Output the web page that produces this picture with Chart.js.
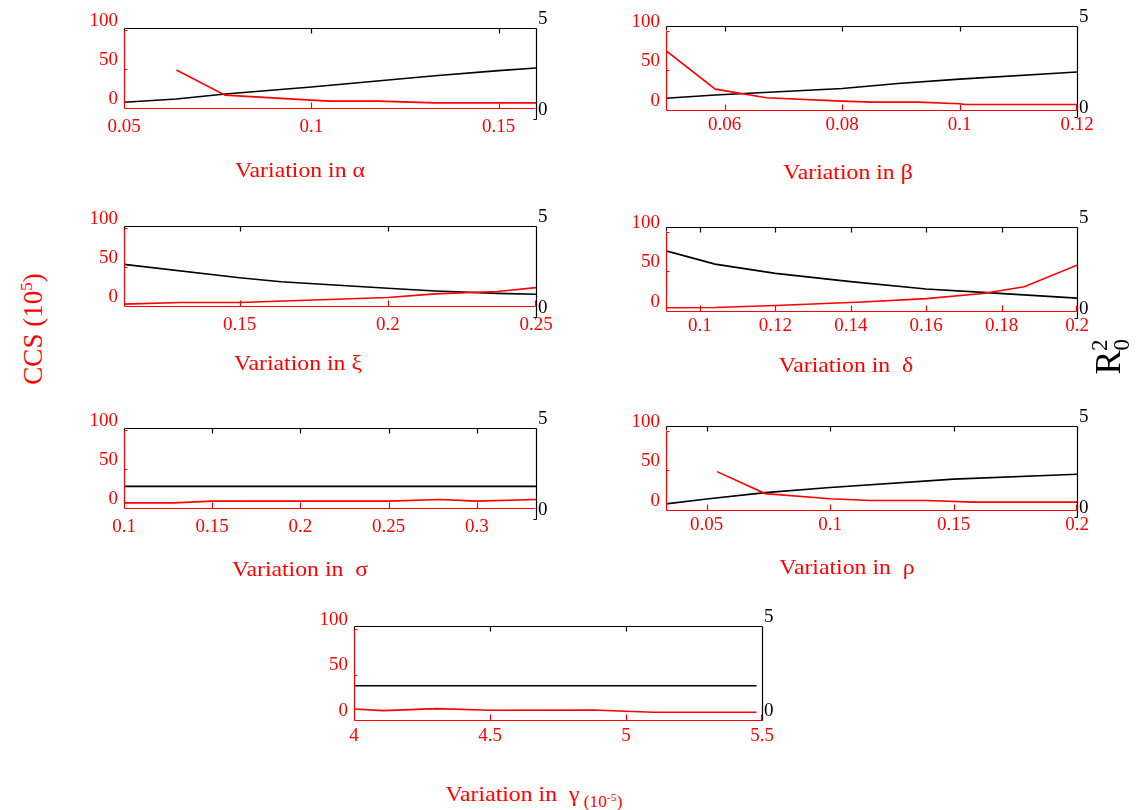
<!DOCTYPE html>
<html lang="en">
<head>
<meta charset="UTF-8" />
<title>CCS and R0 sensitivity</title>
<script src="https://cdn.jsdelivr.net/npm/chart.js"></script>
<style>
  body { margin: 0; width: 1143px; height: 810px; position: relative; background: #fff;
         font-family: 'Liberation Serif', serif; overflow: hidden; }
  canvas { position: absolute; }
  .ttl { position: absolute; color: #f00; font-size: 22px; white-space: pre; transform: translate(-50%, -50%) scaleX(1.08); }
  .side { position: absolute; white-space: nowrap; transform: translate(-50%, -50%) rotate(-90deg); }
</style>
</head>
<body>
<script>
  // tick labels shared by all panels
  const ccsTicks = [0, 50, 100];
  const r0Ticks = [0, 5];

  // variation in alpha
  const alphaTicks = [0.05, 0.1, 0.15];
  const alphaCcsX = [0.064, 0.077, 0.1, 0.105, 0.118, 0.133, 0.16];
  const alphaCcs = [49, 17, 10.6, 9.4, 9.4, 7.2, 7.2];
  const alphaR0X = [0.05, 0.064, 0.077, 0.1, 0.133, 0.15, 0.16];
  const alphaR0 = [0.92, 1.1, 1.37, 1.76, 2.38, 2.66, 2.8];

  // variation in beta
  const betaTicks = [0.06, 0.08, 0.1, 0.12];
  const betaCcsX = [0.05, 0.0584, 0.0671, 0.08, 0.085, 0.093, 0.1, 0.101, 0.12];
  const betaCcs = [75, 26, 15, 10.7, 9.4, 9.4, 7.3, 6.4, 6.4];
  const betaR0X = [0.05, 0.0584, 0.08, 0.0895, 0.1, 0.12];
  const betaR0 = [1.03, 1.21, 1.57, 1.84, 2.08, 2.47];

  // variation in xi
  const xiTicks = [0.15, 0.2, 0.25];
  const xiCcsX = [0.111, 0.13, 0.15, 0.2, 0.216, 0.237, 0.25];
  const xiCcs = [3, 5, 5, 11.5, 16, 19, 24];
  const xiR0X = [0.111, 0.15, 0.164, 0.2, 0.216, 0.237, 0.25];
  const xiR0 = [2.89, 2.16, 1.94, 1.58, 1.43, 1.3, 1.25];

  // variation in delta
  const deltaTicks = [0.1, 0.12, 0.14, 0.16, 0.18, 0.2];
  const deltaCcsX = [0.091, 0.104, 0.12, 0.143, 0.16, 0.175, 0.186, 0.2];
  const deltaCcs = [3.5, 3.9, 6.5, 10.9, 15.2, 21.7, 30.4, 57.8];
  const deltaR0X = [0.091, 0.104, 0.12, 0.14, 0.16, 0.175, 0.2];
  const deltaR0 = [3.69, 2.96, 2.45, 2.0, 1.59, 1.41, 1.09];

  // variation in sigma
  const sigmaTicks = [0.1, 0.15, 0.2, 0.25, 0.3];
  const sigmaCcsX = [0.1, 0.128, 0.15, 0.2, 0.25, 0.279, 0.3, 0.3335];
  const sigmaCcs = [7.2, 7.2, 9.4, 9.4, 9.4, 11.5, 9.4, 11.5];
  const sigmaR0X = [0.1, 0.3335];
  const sigmaR0 = [1.79, 1.79];

  // variation in rho
  const rhoTicks = [0.05, 0.1, 0.15, 0.2];
  const rhoCcsX = [0.0542, 0.0737, 0.1, 0.1165, 0.139, 0.158, 0.2];
  const rhoCcs = [48.3, 20.3, 13.8, 11.6, 11.6, 9.5, 9.5];
  const rhoR0X = [0.0335, 0.05, 0.0737, 0.1, 0.15, 0.2];
  const rhoR0 = [0.72, 0.99, 1.34, 1.62, 2.08, 2.35];

  // variation in gamma (10^-5)
  const gammaTicks = [4, 4.5, 5, 5.5];
  const gammaCcsX = [4, 4.108, 4.304, 4.5, 4.88, 5, 5.1, 5.48];
  const gammaCcs = [12.1, 10.3, 12.5, 10.7, 11, 9.6, 8.5, 8.5];
  const gammaR0X = [4, 5.48];
  const gammaR0 = [1.82, 1.82];

  const panels = [
    { left: 124, right: 536, top: 28, h: 91, xMin: 0.05, xMax: 0.16, ticks: alphaTicks,
      ccsX: alphaCcsX, ccs: alphaCcs, r0X: alphaR0X, r0: alphaR0, redMin: -13.4, redMax: 102.5,
      title: 'Variation in α', tx: 300, ty: 170 },
    { left: 666, right: 1077, top: 26, h: 91, xMin: 0.05, xMax: 0.12, ticks: betaTicks,
      ccsX: betaCcsX, ccs: betaCcs, r0X: betaR0X, r0: betaR0, redMin: -9.5, redMax: 106.4,
      title: 'Variation in β', tx: 848, ty: 172 },
    { left: 124, right: 536, top: 226, h: 91, xMin: 0.111, xMax: 0.25, ticks: xiTicks,
      ccsX: xiCcsX, ccs: xiCcs, r0X: xiR0X, r0: xiR0, redMin: -13.4, redMax: 102.5,
      title: 'Variation in ξ', tx: 298, ty: 363 },
    { left: 666, right: 1077, top: 227, h: 91, xMin: 0.091, xMax: 0.2, ticks: deltaTicks,
      ccsX: deltaCcsX, ccs: deltaCcs, r0X: deltaR0X, r0: deltaR0, redMin: -9.5, redMax: 106.4,
      title: 'Variation in  δ', tx: 846, ty: 365 },
    { left: 124, right: 536, top: 428, h: 91, xMin: 0.1, xMax: 0.3335, ticks: sigmaTicks,
      ccsX: sigmaCcsX, ccs: sigmaCcs, r0X: sigmaR0X, r0: sigmaR0, redMin: -13.4, redMax: 102.5,
      title: 'Variation in  σ', tx: 300, ty: 569 },
    { left: 666, right: 1077, top: 426, h: 91, xMin: 0.0335, xMax: 0.2, ticks: rhoTicks,
      ccsX: rhoCcsX, ccs: rhoCcs, r0X: rhoR0X, r0: rhoR0, redMin: -9.5, redMax: 106.4,
      title: 'Variation in  ρ', tx: 847, ty: 567 },
    { left: 354, right: 762, top: 626, h: 94, xMin: 4, xMax: 5.5, ticks: gammaTicks,
      ccsX: gammaCcsX, ccs: gammaCcs, r0X: gammaR0X, r0: gammaR0, redMin: 0, redMax: 103.3,
      title: 'Variation in  γ', tx: 534, ty: 794, gamma: true, xPad: 5 }
  ];

  const tickFont = { family: "'Liberation Serif', serif", size: 19 };

  // box lines and inner tick marks, like the original figure
  const framePlugin = {
    id: 'frame',
    afterDatasetsDraw(chart) {
      const { ctx, chartArea: a, scales: { x, y, y2 } } = chart;
      const px = x.ticks.map(t => Math.round(x.getPixelForValue(t.value)) + 0.5);
      const y0 = Math.round(y.getPixelForValue(0)) + 0.5;
      const y50 = Math.round(y.getPixelForValue(50)) + 0.5;
      const y100 = Math.round(y.getPixelForValue(100)) + 0.5;
      const b0 = Math.round(y2.getPixelForValue(0)) + 0.5;
      const L = Math.round(a.left) + 0.5, R = Math.round(a.right) + 0.5, T = Math.round(a.top) + 0.5;
      ctx.save();
      ctx.lineWidth = 1.2;
      ctx.strokeStyle = '#000';
      ctx.beginPath();
      ctx.moveTo(L, T); ctx.lineTo(R, T);
      px.forEach(p => { if (p > L + 3 && p < R - 3) { ctx.moveTo(p, T); ctx.lineTo(p, T + 5); } });
      ctx.moveTo(L, T); ctx.lineTo(L, T + 4);
      ctx.moveTo(R, T); ctx.lineTo(R, b0);
      ctx.moveTo(R - 3, b0); ctx.lineTo(R, b0);
      ctx.stroke();
      ctx.strokeStyle = '#f00';
      ctx.beginPath();
      ctx.moveTo(L, y0); ctx.lineTo(R - 1, y0);
      px.forEach(p => { if (p > L + 3) { const q = Math.min(p, R - 1); ctx.moveTo(q, y0); ctx.lineTo(q, y0 - 6); } });
      ctx.moveTo(L, y100); ctx.lineTo(L, y0);
      ctx.moveTo(L, y100); ctx.lineTo(L + 3, y100);
      ctx.moveTo(L, y50); ctx.lineTo(L + 3, y50);
      ctx.stroke();
      ctx.restore();
    }
  };

  const padTop = 20, padLeft = 60, padRight = 40, xAxisH = 40;

  panels.forEach(p => {
    const c = document.createElement('canvas');
    c.width = (p.right - p.left) + padLeft + padRight;
    c.height = p.h + padTop + xAxisH;
    c.style.left = (p.left - padLeft) + 'px';
    c.style.top = (p.top - padTop) + 'px';
    document.body.appendChild(c);

    const t = document.createElement('div');
    t.className = 'ttl';
    t.style.left = p.tx + 'px';
    t.style.top = p.ty + 'px';
    t.textContent = p.title;
    if (p.gamma) {
      const s = document.createElement('span');
      s.style.fontSize = '16px';
      s.style.position = 'relative';
      s.style.top = '6px';
      s.innerHTML = ' (10<sup style="font-size:11px">-5</sup>)';
      t.appendChild(s);
    }
    document.body.appendChild(t);

    new Chart(c.getContext('2d'), {
      type: 'line',
      data: {
        datasets: [
          { data: p.ccsX.map((v, i) => ({ x: v, y: p.ccs[i] })), yAxisID: 'y',
            borderColor: '#f00', borderWidth: 1.6, pointRadius: 0, tension: 0, fill: false },
          { data: p.r0X.map((v, i) => ({ x: v, y: p.r0[i] })), yAxisID: 'y2',
            borderColor: '#000', borderWidth: 1.6, pointRadius: 0, tension: 0, fill: false }
        ]
      },
      options: {
        responsive: false,
        animation: false,
        devicePixelRatio: 1,
        layout: { padding: { top: padTop, left: 0, right: 0, bottom: 0 } },
        plugins: { legend: { display: false }, tooltip: { enabled: false } },
        scales: {
          x: {
            type: 'linear', min: p.xMin, max: p.xMax,
            afterBuildTicks: s => { s.ticks = p.ticks.map(v => ({ value: v })); },
            afterFit: s => { s.height = xAxisH; },
            grid: { display: false, drawTicks: false }, border: { display: false },
            ticks: { color: '#f00', font: tickFont, padding: p.xPad || -3, maxRotation: 0, autoSkip: false,
                     callback: v => String(v) }
          },
          y: {
            position: 'left', min: p.redMin, max: p.redMax,
            afterBuildTicks: s => { s.ticks = ccsTicks.map(v => ({ value: v })); },
            afterFit: s => { s.width = padLeft; },
            grid: { display: false, drawTicks: false }, border: { display: false },
            ticks: { color: '#f00', font: tickFont, padding: 6, labelOffset: -9, callback: v => String(v) }
          },
          y2: {
            position: 'right', min: 0, max: 5,
            afterBuildTicks: s => { s.ticks = r0Ticks.map(v => ({ value: v })); },
            afterFit: s => { s.width = padRight; },
            grid: { display: false, drawTicks: false }, border: { display: false },
            ticks: { color: '#000', font: tickFont, padding: 2, labelOffset: -9, callback: v => String(v) }
          }
        }
      },
      plugins: [framePlugin]
    });
  });

  const ccsLabel = document.createElement('div');
  ccsLabel.className = 'side';
  ccsLabel.style.cssText = 'left:33px; top:329px; color:#f00; font-size:27px;';
  ccsLabel.innerHTML = 'CCS (10<sup style="font-size:17px">5</sup>)';
  document.body.appendChild(ccsLabel);

  const r0Label = document.createElement('div');
  r0Label.className = 'side';
  r0Label.style.cssText = 'left:1111px; top:357px; color:#000; font-size:36px;';
  r0Label.innerHTML = 'R<sub style="font-size:23px">0</sub><sup style="font-size:23px; margin-left:-12px">2</sup>';
  document.body.appendChild(r0Label);
</script>
</body>
</html>
